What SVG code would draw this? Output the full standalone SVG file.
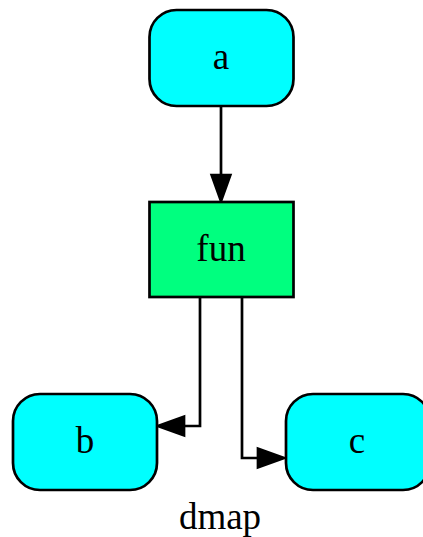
<svg xmlns="http://www.w3.org/2000/svg" width="423" height="537" viewBox="0 0 423 537">
<style>
.node{stroke:#000;stroke-width:2.7}
.edge{fill:none;stroke:#000;stroke-width:2.7}
.head{fill:#000;stroke:#000;stroke-width:2.7}
text{font-family:"Liberation Serif","Times New Roman",serif;font-size:37px;text-anchor:middle;fill:#000}
</style>
<rect width="423" height="537" fill="#fff"/>
<g id="connectors">
<path class="edge" d="M221,106 V176"/>
<polygon class="head" points="221,201 211.7,175 230.3,175"/>
<path class="edge" d="M200,297 V426 H185"/>
<polygon class="head" points="158,426 184,416.7 184,435.3"/>
<path class="edge" d="M242,297 V458 H259"/>
<polygon class="head" points="284,458 258,448.7 258,467.3"/>
</g>
<g id="node-a">
<rect class="node" x="149.5" y="10" width="144" height="96" rx="27" fill="#00ffff"/>
<text x="221" y="69">a</text>
</g>
<g id="node-fun">
<rect class="node" x="149.5" y="202" width="144" height="95" fill="#00ff7f"/>
<text x="221" y="261">fun</text>
</g>
<g id="node-b">
<rect class="node" x="13" y="394" width="144" height="96" rx="27" fill="#00ffff"/>
<text x="85" y="453">b</text>
</g>
<g id="node-c">
<rect class="node" x="286" y="394" width="144" height="96" rx="27" fill="#00ffff"/>
<text x="357" y="453">c</text>
</g>
<text x="220" y="529">dmap</text>
</svg>
